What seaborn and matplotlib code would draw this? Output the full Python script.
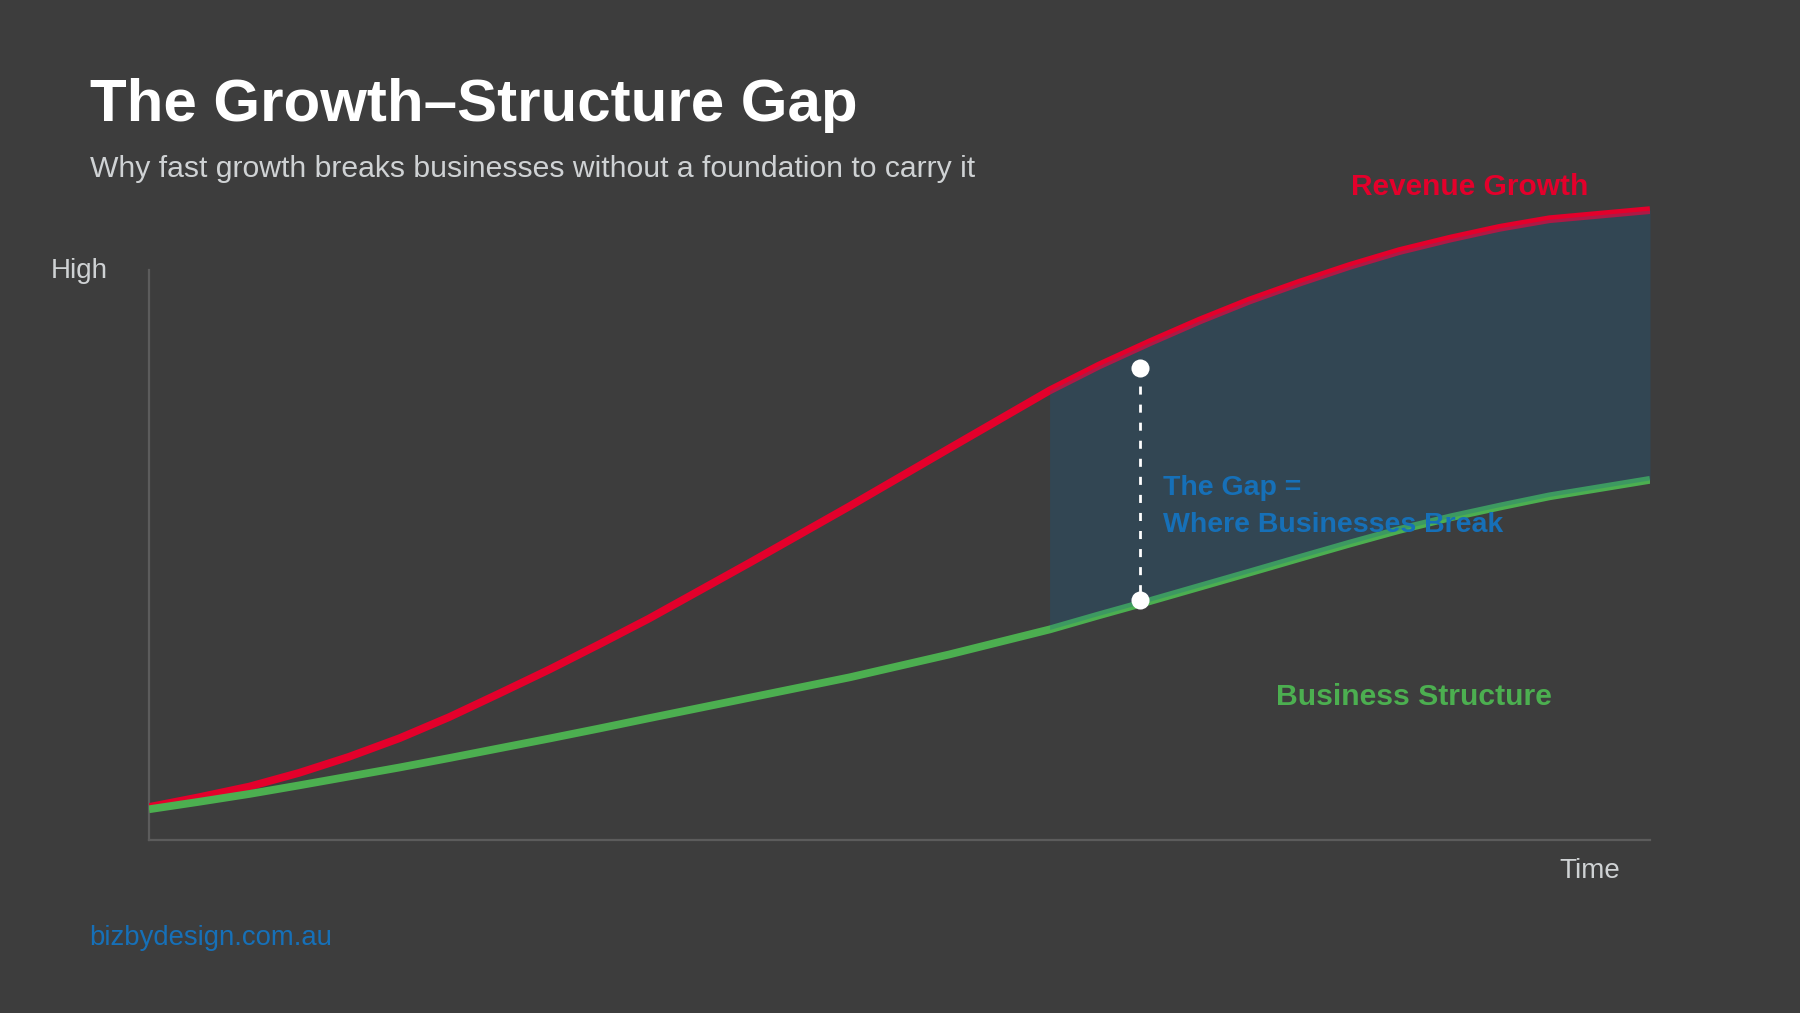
import matplotlib
matplotlib.use("Agg")
import matplotlib.pyplot as plt
import seaborn as sns
import pandas as pd

# ---- data ----
time_x = [0, 3.3, 6.7, 10, 13.3, 16.7, 20, 23.3, 26.7, 30, 33.3, 40, 46.7, 53.3,
          60, 63.3, 66.7, 70, 73.3, 76.7, 80, 83.3, 86.7, 90, 93.3, 100]
revenue = [5.8, 7.5, 9.4, 11.8, 14.6, 17.9, 21.6, 25.7, 30.0, 34.4, 38.9, 48.7, 58.7, 68.8,
           79.0, 83.4, 87.5, 91.3, 94.8, 98.0, 100.9, 103.5, 105.7, 107.6, 109.1, 110.7]
structure = [5.4, 6.7, 8.1, 9.6, 11.15, 12.75, 14.4, 16.1, 17.85, 19.6, 21.4, 25.0, 28.6, 32.6,
             37.0, 39.5, 42.0, 44.5, 47.0, 49.6, 52.1, 54.5, 56.7, 58.6, 60.4, 63.3]
gap_start_index = 14         # shaded gap starts at x = 60
gap_x = 66.0
gap_top = 83.0
gap_bottom = 42.2

title = "The Growth\u2013Structure Gap"
subtitle = "Why fast growth breaks businesses without a foundation to carry it"
label_revenue = "Revenue Growth"
label_structure = "Business Structure"
gap_line1 = "The Gap ="
gap_line2 = "Where Businesses Break"
y_label = "High"
x_label = "Time"
footer = "bizbydesign.com.au"

BG = "#3d3d3d"
RED = "#e4002b"
GREEN = "#4caf50"
BLUE = "#1670b8"
GREY = "#cfd2d4"
SPINE = "#5c5c5c"

sns.set_theme(style="dark")
plt.rcParams["font.family"] = ["Liberation Sans", "DejaVu Sans"]

W, H = 1800, 1013
fig = plt.figure(figsize=(W / 100, H / 100), dpi=100, facecolor=BG)
ax = fig.add_axes([149 / W, (H - 840) / H, 1501 / W, 640 / H])
ax.set_facecolor(BG)

df = pd.DataFrame({"time": time_x, "revenue": revenue, "structure": structure})

sns.lineplot(data=df, x="time", y="revenue", ax=ax, color=RED, linewidth=5.6,
             solid_capstyle="butt", solid_joinstyle="round", zorder=3)
sns.lineplot(data=df, x="time", y="structure", ax=ax, color=GREEN, linewidth=5.6,
             solid_capstyle="butt", solid_joinstyle="round", zorder=3)

sub = df.iloc[gap_start_index:]
ax.fill_between(sub["time"], sub["structure"], sub["revenue"], color="#156191",
                alpha=0.27, linewidth=0, zorder=4)

ax.plot([gap_x, gap_x], [gap_top, gap_bottom], color="white", linewidth=2,
        dashes=(2.9, 3.6), zorder=5)
ax.plot([gap_x, gap_x], [gap_top, gap_bottom], "o", color="white", markersize=13,
        markeredgewidth=0, zorder=6)

ax.set_xlim(0, 100)
ax.set_ylim(0, 112.48)
ax.set_xticks([])
ax.set_yticks([])
ax.set_xlabel("")
ax.set_ylabel("")
for s in ["top", "right"]:
    ax.spines[s].set_visible(False)
for s in ["left", "bottom"]:
    ax.spines[s].set_visible(True)
    ax.spines[s].set_color(SPINE)
    ax.spines[s].set_linewidth(1.6)
ax.spines["left"].set_bounds(0, 100.2)
ax.grid(False)


def ftxt(x, y, s, **kw):
    fig.text(x / W, 1 - y / H, s, va="baseline", **kw)


ftxt(90, 121, title, fontsize=43.2, fontweight="bold", color="white")
ftxt(90, 177, subtitle, fontsize=21.7, color=GREY)
ftxt(51, 278, y_label, fontsize=20, color=GREY)
ftxt(1620, 878, x_label, fontsize=20, color=GREY, ha="right")
ftxt(89, 945, footer, fontsize=19.8, color=BLUE)
ftxt(1588, 195, label_revenue, fontsize=21.5, fontweight="bold", color=RED, ha="right")
ftxt(1276, 705, label_structure, fontsize=21.7, fontweight="bold", color=GREEN)
ftxt(1163, 495, gap_line1, fontsize=20.5, fontweight="bold", color=BLUE, zorder=7)
ftxt(1163, 532, gap_line2, fontsize=20.5, fontweight="bold", color=BLUE, zorder=7)

fig.savefig("out.png", dpi=100, facecolor=BG)
